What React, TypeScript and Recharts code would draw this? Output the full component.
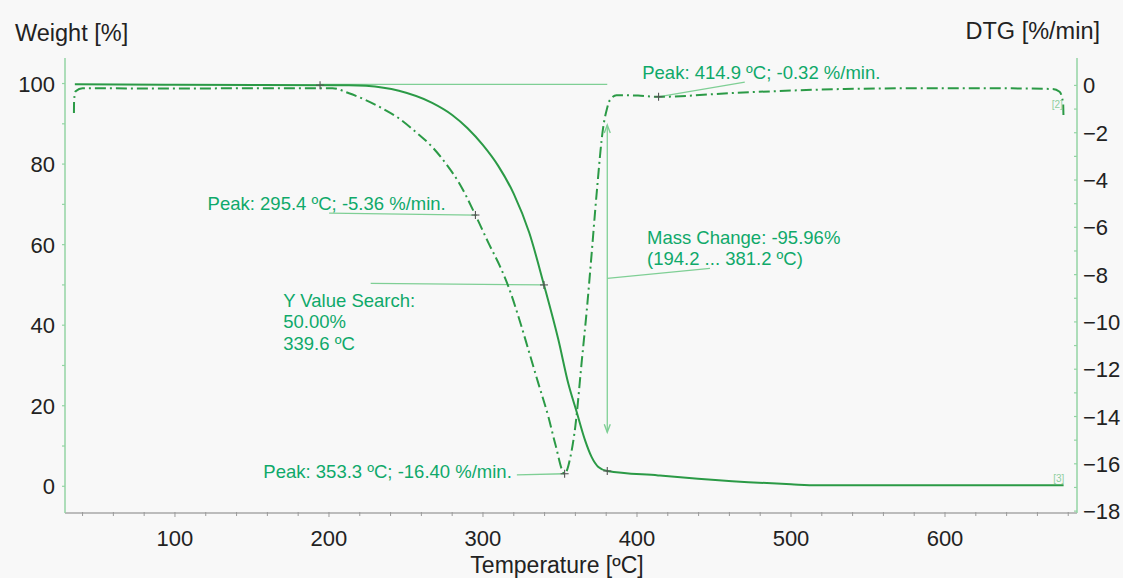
import React from 'react';
import { LineChart, Line, XAxis, YAxis, ReferenceLine, ReferenceDot } from 'recharts';

// ---- data ----
const tgaTemp = [35, 100, 213, 224, 245.4, 267, 280, 290, 300, 310, 320, 330, 339.6, 349, 355.4, 360.8, 366.3, 370.5, 374.9, 380.7, 413.7, 439.6, 500, 517, 600, 677];
const tgaWeight = [99.8, 99.7, 99.6, 99.45, 98.2, 95.2, 92.2, 88.9, 84.7, 79.5, 72.6, 63.0, 50.0, 36.3, 25.5, 18.5, 11.4, 7.3, 4.8, 3.8, 2.7, 1.9, 0.5, 0.25, 0.25, 0.25];

const dtgTemp = [34.4, 34.5, 35.5, 40, 100, 150, 202.3, 213, 223.9, 234.6, 245.4, 256.2, 267, 277, 284.3, 295.1, 303.7, 311.2, 316.6, 323.1, 329.6, 336.0, 342.5, 346.9, 353.0, 356.8, 360.0, 364.2, 367.4, 370.2, 373.8, 378.1, 380.3, 382.4, 386.7, 400.7, 414.0, 465.2, 535, 581.3, 628, 669.7, 674.4, 676.7, 676.9];
const dtgRate = [-1.17, -0.62, -0.25, -0.12, -0.13, -0.12, -0.12, -0.33, -0.62, -0.97, -1.39, -1.96, -2.6, -3.4, -4.1, -5.48, -6.68, -7.67, -8.52, -9.79, -11.2, -12.61, -14.02, -15.15, -16.42, -15.7, -14.4, -11.62, -9.5, -7.39, -4.57, -1.75, -1.04, -0.62, -0.41, -0.43, -0.48, -0.31, -0.15, -0.12, -0.12, -0.15, -0.27, -0.76, -1.25];

const xTicks = [40, 60, 80, 100, 120, 140, 160, 180, 200, 220, 240, 260, 280, 300, 320, 340, 360, 380, 400, 420, 440, 460, 480, 500, 520, 540, 560, 580, 600, 620, 640, 660, 680];
const xLabelEvery = 100;
const weightTicks = [0, 10, 20, 30, 40, 50, 60, 70, 80, 90, 100];
const weightLabelEvery = 20;
const dtgTicks = [-18, -17, -16, -15, -14, -13, -12, -11, -10, -9, -8, -7, -6, -5, -4, -3, -2, -1, 0];
const dtgLabelEvery = 2;

// annotation texts (anchor in data coordinates, axis "w" = weight, "d" = DTG)
const noteTexts = [
  { axis: 'd', x: 403.4, y: 0.27, lines: ['Peak: 414.9 \u00baC; -0.32 %/min.'] },
  { axis: 'd', x: 121.2, y: -5.25, lines: ['Peak: 295.4 \u00baC; -5.36 %/min.'] },
  { axis: 'w', x: 170.3, y: 44.6, lines: ['Y Value Search:', '50.00%', '339.6 \u00baC'] },
  { axis: 'd', x: 157.4, y: -16.58, lines: ['Peak: 353.3 \u00baC; -16.40 %/min.'] },
  { axis: 'w', x: 406.5, y: 60.2, lines: ['Mass Change: -95.96%', '(194.2 ... 381.2 \u00baC)'] },
];
const leaderLines = [
  { axis: 'd', x1: 413.7, y1: -0.48, x2: 470, y2: 0.14 },
  { axis: 'd', x1: 200.1, y1: -5.4, x2: 295.1, y2: -5.48 },
  { axis: 'w', x1: 227.1, y1: 50.36, x2: 339.6, y2: 50.0 },
  { axis: 'd', x1: 322, y1: -16.47, x2: 353, y2: -16.42 },
  { axis: 'w', x1: 380.7, y1: 51.6, x2: 447.4, y2: 54.1 },
  { axis: 'w', x1: 194.2, y1: 99.8, x2: 380.7, y2: 99.8 },
  { axis: 'w', x1: 380.7, y1: 89.7, x2: 380.7, y2: 13.4 },
];
const arrowHeads = [
  { axis: 'w', x: 380.7, y: 89.7, dir: 'up' },
  { axis: 'w', x: 380.7, y: 13.4, dir: 'down' },
];
const crossMarks = [
  { axis: 'w', x: 194.2, y: 99.6 },
  { axis: 'd', x: 295.1, y: -5.48 },
  { axis: 'w', x: 339.6, y: 50.0 },
  { axis: 'd', x: 353.0, y: -16.42 },
  { axis: 'w', x: 380.7, y: 3.8 },
  { axis: 'd', x: 414.0, y: -0.48 },
];
const curveTags = [
  { axis: 'd', x: 676.5, y: -0.95, text: '[2]' },
  { axis: 'w', x: 677.5, y: 1.0, text: '[3]' },
];

const tgaData = tgaTemp.map((t, i) => ({ t, w: tgaWeight[i] }));
const dtgData = dtgTemp.map((t, i) => ({ t, d: dtgRate[i] }));

const FONT = '"Liberation Sans", Arial, Helvetica, sans-serif';
const CURVE = '#2b9a46';
const NOTE = '#0fa96a';
const AXIS_GREEN = '#94d4a4';
const LEAD = '#7fcf95';

const XTick = (props: any) => {
  const { x, y, payload } = props;
  const v = payload.value;
  const major = v % xLabelEvery === 0;
  return (
    <g>
      <line x1={x} y1={y - 1} x2={x} y2={y + (major ? 4 : 3)} stroke="#9a9a9a" strokeWidth={1} />
      {major && (
        <text x={x} y={y + 33} textAnchor="middle" fontSize={22} fontFamily={FONT} fill="#222">{v}</text>
      )}
    </g>
  );
};

const WTick = (props: any) => {
  const { x, y, payload } = props;
  const v = payload.value;
  const major = v % weightLabelEvery === 0;
  return (
    <g>
      <line x1={x} y1={y} x2={x - 3} y2={y} stroke={AXIS_GREEN} strokeWidth={1.2} />
      {major && (
        <text x={x - 10} y={y + 8} textAnchor="end" fontSize={22} fontFamily={FONT} fill="#222">{v}</text>
      )}
    </g>
  );
};

const DTick = (props: any) => {
  const { x, y, payload } = props;
  const v = payload.value;
  const major = v % dtgLabelEvery === 0;
  return (
    <g>
      <line x1={x} y1={y} x2={x - 3} y2={y} stroke={AXIS_GREEN} strokeWidth={1.2} />
      {major && (
        <text x={x + 6} y={y + 8} textAnchor="start" fontSize={22} fontFamily={FONT} fill="#222">
          {v < 0 ? '\u2212' + Math.abs(v) : String(v)}
        </text>
      )}
    </g>
  );
};

const axisId = (a: string) => (a === 'w' ? 'w' : 'd');

export default function App() {
  return (
    <div style={{ position: 'fixed', left: 0, top: 0, width: 1123, height: 578, background: '#f8f8f8', fontFamily: FONT, overflow: 'hidden' }}>
      <LineChart width={1123} height={578} margin={{ top: 58, right: 0, bottom: 0, left: 0 }}>
        <XAxis
          type="number"
          dataKey="t"
          domain={[28.6, 685.7]}
          ticks={xTicks}
          interval={0}
          allowDataOverflow
          height={65}
          tickSize={0}
          tickMargin={0}
          tickLine={false}
          axisLine={{ stroke: '#a8a8a8', strokeWidth: 1.5 }}
          tick={<XTick />}
        />
        <YAxis
          yAxisId="w"
          orientation="left"
          type="number"
          domain={[-6.63, 106.34]}
          ticks={weightTicks}
          interval={0}
          allowDataOverflow
          width={65}
          tickSize={0}
          tickMargin={0}
          tickLine={false}
          axisLine={{ stroke: AXIS_GREEN, strokeWidth: 1.5 }}
          tick={<WTick />}
        />
        <YAxis
          yAxisId="d"
          orientation="right"
          type="number"
          domain={[-18.08, 1.16]}
          ticks={dtgTicks}
          interval={0}
          allowDataOverflow
          width={46}
          tickSize={0}
          tickMargin={0}
          tickLine={false}
          axisLine={{ stroke: AXIS_GREEN, strokeWidth: 1.5 }}
          tick={<DTick />}
        />

        {leaderLines.map((l, i) => (
          <ReferenceLine
            key={'ll' + i}
            yAxisId={axisId(l.axis)}
            segment={[{ x: l.x1, y: l.y1 }, { x: l.x2, y: l.y2 }]}
            stroke={LEAD}
            strokeWidth={1.3}
            ifOverflow="visible"
          />
        ))}

        <Line
          data={tgaData}
          yAxisId="w"
          dataKey="w"
          type="monotone"
          stroke={CURVE}
          strokeWidth={2}
          dot={false}
          isAnimationActive={false}
        />
        <Line
          data={dtgData}
          yAxisId="d"
          dataKey="d"
          type="monotone"
          stroke={CURVE}
          strokeWidth={2}
          strokeDasharray="11 4 2 4"
          dot={false}
          isAnimationActive={false}
        />

        {arrowHeads.map((a, i) => (
          <ReferenceDot
            key={'ah' + i}
            yAxisId={axisId(a.axis)}
            x={a.x}
            y={a.y}
            ifOverflow="visible"
            shape={(p: any) => {
              const s = a.dir === 'up' ? 1 : -1;
              return (
                <path
                  d={`M${p.cx - 3},${p.cy + s * 8} L${p.cx},${p.cy} L${p.cx + 3},${p.cy + s * 8}`}
                  fill="none"
                  stroke={LEAD}
                  strokeWidth={1.4}
                />
              );
            }}
          />
        ))}

        {crossMarks.map((m, i) => (
          <ReferenceDot
            key={'cm' + i}
            yAxisId={axisId(m.axis)}
            x={m.x}
            y={m.y}
            ifOverflow="visible"
            shape={(p: any) => (
              <g stroke="#555" strokeWidth={1.1}>
                <line x1={p.cx - 4} y1={p.cy} x2={p.cx + 4} y2={p.cy} />
                <line x1={p.cx} y1={p.cy - 4} x2={p.cx} y2={p.cy + 4} />
              </g>
            )}
          />
        ))}

        {noteTexts.map((n, i) => (
          <ReferenceDot
            key={'nt' + i}
            yAxisId={axisId(n.axis)}
            x={n.x}
            y={n.y}
            ifOverflow="visible"
            shape={(p: any) => (
              <text x={p.cx} y={p.cy} fontSize={18.5} fontFamily={FONT} fill={NOTE}>
                {n.lines.map((ln, j) => (
                  <tspan key={j} x={p.cx} dy={j === 0 ? 0 : 21.5}>{ln}</tspan>
                ))}
              </text>
            )}
          />
        ))}

        {curveTags.map((c, i) => (
          <ReferenceDot
            key={'ct' + i}
            yAxisId={axisId(c.axis)}
            x={c.x}
            y={c.y}
            ifOverflow="visible"
            shape={(p: any) => (
              <text x={p.cx} y={p.cy} fontSize={10} fontFamily={FONT} fill="#8fcf9f" textAnchor="end">{c.text}</text>
            )}
          />
        ))}
      </LineChart>

      <div style={{ position: 'absolute', left: 15, top: 19, fontSize: 23.5, color: '#222', lineHeight: '28px', whiteSpace: 'nowrap' }}>Weight [%]</div>
      <div style={{ position: 'absolute', right: 23, top: 17, fontSize: 23.5, color: '#222', lineHeight: '28px', whiteSpace: 'nowrap' }}>DTG [%/min]</div>
      <div style={{ position: 'absolute', left: 0, width: 1114, textAlign: 'center', top: 553, fontSize: 23, color: '#222', lineHeight: '24px', whiteSpace: 'nowrap' }}>Temperature [{'\u00ba'}C]</div>
    </div>
  );
}
